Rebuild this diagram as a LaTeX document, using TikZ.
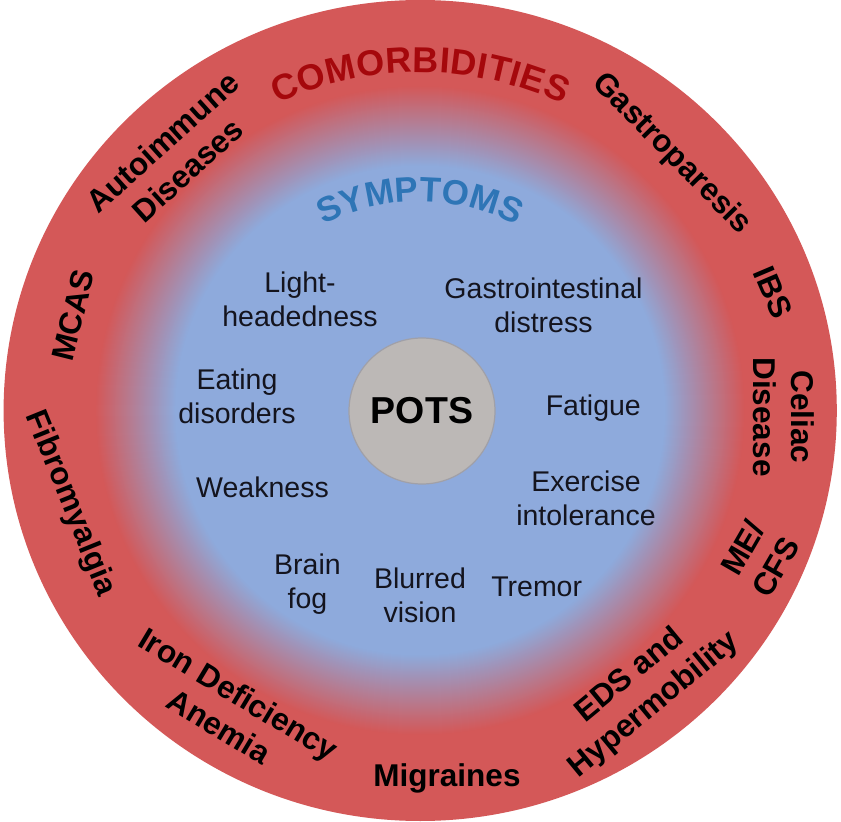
\documentclass[tikz,border=0pt]{standalone}
\usepackage{fontspec}
\setmainfont{Liberation Sans}
\usetikzlibrary{decorations.text}
\definecolor{ringred}{RGB}{212,88,88}
\definecolor{innerblue}{RGB}{142,170,220}
\definecolor{comred}{RGB}{165,8,12}
\definecolor{symblue}{RGB}{46,117,182}
\definecolor{potsgray}{RGB}{188,184,182}
\definecolor{potsedge}{RGB}{160,160,168}
\definecolor{symtext}{RGB}{20,20,30}
\begin{document}
\begin{tikzpicture}[x=1pt,y=1pt,
  symp/.style={font=\fontsize{28.5}{34}\selectfont, text=symtext, align=center, inner sep=0pt},
  comor/.style={font=\fontsize{31.5}{38}\selectfont\bfseries, text=black, align=center, inner sep=0pt},
  potsnode/.style={circle, minimum size=146pt, fill=potsgray, draw=potsedge, line width=1.2pt,
    font=\fontsize{37.5}{40}\selectfont\bfseries, text=black}
]
\useasboundingbox (-420.2,-411.5) rectangle (420.8,410.5);
\fill[white] (-420.2,-411.5) rectangle (420.8,410.5);
% rings
\fill[ringred] (0,0) ellipse [x radius=416.6pt, y radius=410.5pt];
\foreach \i in {0,...,80}{
  \pgfmathsetmacro\rr{325-\i}
  \pgfmathsetmacro\pp{100*\i/80}
  \fill[innerblue!\pp!ringred] (0,0) circle [radius=\rr pt];
}
% curved titles
\path[decorate, decoration={text along path,
  text={|\fontsize{36}{40}\selectfont\bfseries|COMORBIDITIES},
  text color=comred, text align=fit to path}]
  (115:338pt) arc[start angle=115, end angle=65, radius=338pt];
\path[decorate, decoration={text along path,
  text={|\fontsize{35}{40}\selectfont\bfseries|SYMPTOMS},
  text color=symblue, text align=fit to path}]
  (117.5:209pt) arc[start angle=117.5, end angle=62.5, radius=209pt];
% center
\node[potsnode] (pots) at (1.8,-0.5) {POTS};
% symptoms
\node[symp] (light) at (-120.2,110.7) {Light-\\headedness};
\node[symp] (gi) at (123.3,105) {Gastrointestinal\\distress};
\node[symp] (eating) at (-183.2,14.3) {Eating\\disorders};
\node[symp, anchor=base] (fatigue) at (173.1,-4.9) {Fatigue};
\node[symp, anchor=base] (weak) at (-157.7,-87.2) {Weakness};
\node[symp] (exer) at (165.8,-87.8) {Exercise\\intolerance};
\node[symp] (brain) at (-112.7,-173.3) {Brain\\fog};
\node[symp] (blur) at (-0.2,-185.1) {Blurred\\vision};
\node[symp, anchor=base] (tremor) at (116.5,-185.5) {Tremor};
% comorbidities
\node[comor, rotate=42] (autoimm) at (-245.2,254.5) {Autoimmune\\Diseases};
\node[comor, rotate=76] (mcas) at (-347.2,95.5) {MCAS};
\node[comor, rotate=-68] (fibro) at (-350.2,-93) {Fibromyalgia};
\node[comor, rotate=-31] (iron) at (-191.2,-299.5) {Iron Deficiency\\Anemia};
\node[comor, anchor=base] (migr) at (26.8,-375.5) {Migraines};
\node[comor, rotate=39.5] (eds) at (221.9,-280) {EDS and\\Hypermobility};
\node[comor, rotate=60] (mecfs) at (338.8,-147) {ME/\\CFS};
\node[comor, rotate=-90] (celiac) at (363.8,-6.5) {Celiac\\Disease};
\node[comor, rotate=-67] (ibs) at (352.8,118.5) {IBS};
\node[comor, rotate=-45.5] (gastrop) at (251.5,256.5) {Gastroparesis};
\end{tikzpicture}
\end{document}
